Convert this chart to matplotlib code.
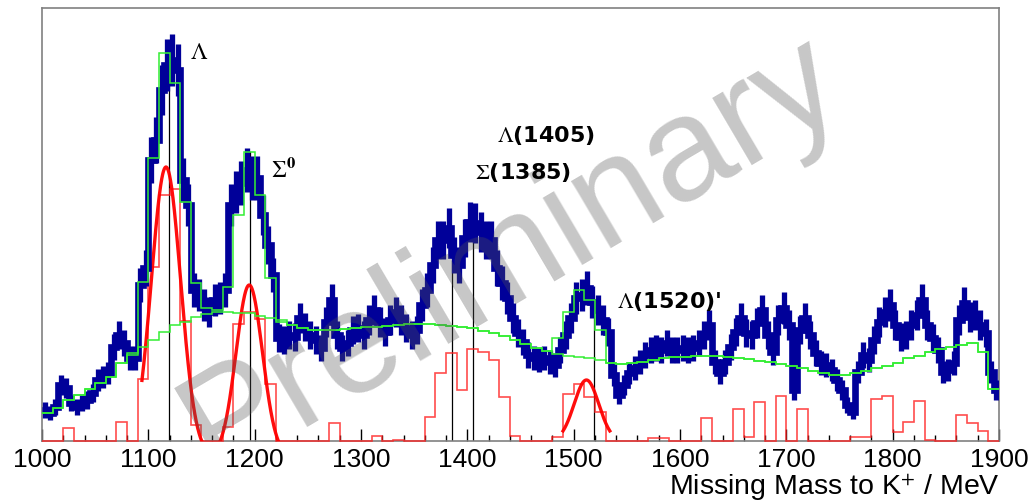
import numpy as np
import matplotlib
matplotlib.use("Agg")
import matplotlib.pyplot as plt
from matplotlib import font_manager

# measured missing-mass spectrum, 5 MeV bins 1000-1900
blue_counts = [31, 28, 34, 56, 53, 38, 34, 38, 41, 48, 61, 64, 68, 94, 106, 98, 83, 83, 156, 173,
               281, 301, 351, 376, 381, 371, 261, 236, 151, 146, 136, 129, 141, 143, 151, 236, 249, 258, 271, 263,
               263, 226, 196, 166, 103, 101, 106, 104, 123, 114, 106, 101, 93, 119, 141, 106, 93, 98, 111, 113,
               106, 121, 131, 119, 109, 121, 129, 121, 113, 106, 111, 136, 151, 176, 201, 201, 213, 186, 176, 203,
               219, 218, 209, 201, 201, 173, 158, 143, 123, 108, 99, 86, 83, 81, 83, 79, 76, 91, 106, 123,
               143, 146, 153, 139, 131, 121, 109, 66, 46, 56, 68, 73, 79, 86, 91, 93, 91, 98, 91, 91,
               93, 91, 93, 98, 106, 116, 79, 68, 79, 94, 109, 123, 108, 106, 118, 131, 106, 89, 121, 133,
               116, 51, 111, 123, 106, 88, 78, 76, 71, 61, 51, 36, 29, 69, 86, 81, 101, 119, 129, 136,
               116, 104, 106, 116, 126, 141, 116, 103, 91, 69, 71, 78, 121, 138, 124, 126, 116, 108, 69, 51]

# simulation (green), 10 MeV bins
sim_background = [28, 33, 41, 46, 52, 58, 64, 78, 86, 94, 101, 109, 116, 119, 124, 127, 129, 129, 128, 128,
                  125, 123, 119, 116, 113, 111, 111, 111, 112, 113, 114, 114, 115, 116, 117, 117, 117, 116, 115, 114,
                  113, 110, 108, 105, 101, 97, 93, 90, 87, 85, 84, 83, 81, 78, 77, 78, 79, 81, 83, 84,
                  84, 85, 85, 85, 84, 83, 82, 80, 79, 77, 75, 73, 70, 68, 66, 66, 68, 70, 73, 75,
                  78, 83, 85, 89, 92, 94, 96, 98, 89, 52]
sim_total = [28, 33, 41, 46, 52, 58, 64, 78, 88, 159, 283, 388, 358, 239, 158, 133, 131, 154, 226, 289,
             246, 163, 121, 116, 113, 111, 111, 111, 112, 113, 114, 114, 115, 116, 117, 117, 117, 116, 115, 114,
             113, 110, 108, 105, 101, 97, 93, 90, 103, 129, 151, 141, 111, 78, 77, 78, 79, 81, 83, 84,
             84, 85, 85, 85, 84, 83, 82, 80, 79, 77, 75, 73, 70, 68, 66, 66, 68, 70, 73, 75,
             78, 83, 85, 89, 92, 94, 96, 98, 89, 52]

# background-subtracted signal (red), 10 MeV bins
red_signal = [0, 0, 13, 0, 0, 0, 0, 19, 0, 62, 174, 246, 252, 120, 16, 0, 0, 14, 117, 129,
              122, 57, 0, 0, 0, 0, 0, 18, 0, 0, 0, 5, 0, 1, 0, 0, 24, 68, 88, 51,
              92, 89, 81, 44, 5, 0, 0, 0, 4, 47, 57, 44, 29, 0, 0, 0, 0, 3, 3, 0,
              0, 0, 23, 0, 0, 32, 4, 39, 0, 45, 0, 32, 0, 0, 0, 0, 4, 4, 42, 45,
              9, 19, 40, 1, 0, 0, 26, 18, 10, 0]

# gaussian fits: mean, amplitude, sigma, offset, drawn range
fit_mean = [1116.6, 1194.9, 1512.0]
fit_amp = [289, 171, 61]
fit_sigma = [13.8, 12.4, 11.6]
fit_offset = [-15, -15, 0]
fit_range = [(1094, 1160), (1163, 1226), (1490, 1534)]

# hyperon mass markers
marker_mass = [1119.4, 1195.6, 1385.6, 1405.3, 1519.5]
marker_top = [361, 289, 190, 218, 134]

names = {f.name for f in font_manager.fontManager.ttflist}
if "Liberation Sans Narrow" in names:
    tick_font, tick_size = "Liberation Sans Narrow", 22
else:
    tick_font, tick_size = "Liberation Sans", 19

plt.rcParams["mathtext.fontset"] = "stix"

fig = plt.figure(figsize=(10.35, 5.04), dpi=100)
ax = fig.add_axes([42 / 1035, 63 / 504, 957 / 1035, 433 / 504])

edges5 = np.linspace(1000, 1900, len(blue_counts) + 1)
edges10 = np.linspace(1000, 1900, len(sim_total) + 1)
centers5 = 0.5 * (edges5[1:] + edges5[:-1])
blue = np.array(blue_counts, dtype=float)
blue_err = 1.35 * np.sqrt(blue)

navy = "#000099"

# red signal histogram
ax.stairs(red_signal, edges10, color="#ff2020", lw=1.2, alpha=0.8, zorder=3, clip_on=False)

# mass markers
for m, top in zip(marker_mass, marker_top):
    ax.plot([m, m], [0, top], color="black", lw=0.9, zorder=2)

# gaussian fits
for mu, a, s, c, (lo, hi) in zip(fit_mean, fit_amp, fit_sigma, fit_offset, fit_range):
    xx = np.linspace(lo, hi, 200)
    yy = a * np.exp(-0.5 * ((xx - mu) / s) ** 2) + c
    ax.plot(xx, yy, color="#ff0000", lw=2.4, zorder=4, alpha=0.95)

# data
ax.errorbar(centers5, blue, yerr=blue_err, fmt="none", ecolor=navy, elinewidth=3.8, capsize=0, zorder=5)
st = ax.stairs(blue, edges5, baseline=None, color=navy, lw=4.8, zorder=5)
st.set_joinstyle("miter")

# simulation
ax.stairs(sim_background, edges10, baseline=None, color="#33ee33", lw=1.1, zorder=6)
ax.stairs(sim_total, edges10, baseline=None, color="#33ee33", lw=1.1, zorder=6)

# watermark
ax.text(1442, 186, "Preliminary", rotation=30.5, rotation_mode="anchor", ha="center", va="center",
        fontsize=106, family="Liberation Sans", color="#555555", alpha=0.33, zorder=8, clip_on=True)

# peak labels
ax.text(1139, 382, r"$\Lambda$", fontsize=17, color="black", zorder=9)
ax.text(1215, 264, r"$\Sigma^{\mathbf{0}}$", fontsize=17, color="black", zorder=9)
lab = dict(fontsize=16, fontweight="bold", family="DejaVu Sans", color="black", zorder=9)
ax.text(1428, 299, r"$\Lambda$(1405)", **lab)
ax.text(1407, 262, r"$\Sigma$(1385)", **lab)
ax.text(1541, 133, r"$\Lambda$(1520)'", **lab)

ax.set_xlim(1000, 1900)
ax.set_ylim(0, 433)
ax.set_yticks([])
ax.set_xticks(np.arange(1000, 1901, 100))
ax.set_xticks(np.arange(1000, 1901, 20), minor=True)
ax.tick_params(axis="x", which="major", direction="in", length=9, width=1, pad=5,
               labelsize=tick_size)
ax.tick_params(axis="x", which="minor", direction="in", length=4.5, width=1)
for lbl in ax.get_xticklabels():
    lbl.set_family(tick_font)
for s in ax.spines.values():
    s.set_color("#808080")
    s.set_linewidth(1.2)

fig.text(1000 / 1035, 9 / 504, "Missing Mass to K$^{+}$ / MeV", ha="right", va="baseline",
         fontsize=20.5, family="Liberation Sans")

fig.savefig("out.png", dpi=100)
